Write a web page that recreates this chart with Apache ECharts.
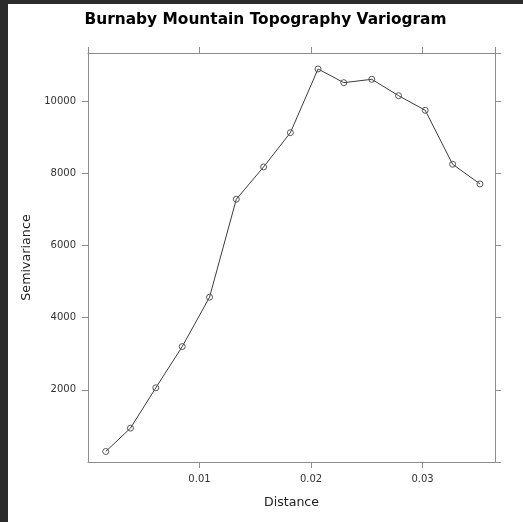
<!DOCTYPE html>
<html>
<head>
<meta charset="utf-8">
<script src="https://cdn.jsdelivr.net/npm/echarts@6/dist/echarts.min.js"></script>
<style>
  html, body { margin: 0; padding: 0; background: #2b2b2b; width: 523px; height: 522px; overflow: hidden; }
  #chart { position: absolute; left: 8px; top: 4px; width: 515px; height: 518px; background: #ffffff; }
</style>
</head>
<body>
<div id="chart"></div>
<script>
// Empirical variogram of Burnaby Mountain topography
const distance = [0.00159, 0.00381, 0.00608, 0.00845, 0.01090, 0.01330, 0.01575, 0.01815,
                  0.02063, 0.02294, 0.02545, 0.02785, 0.03024, 0.03270, 0.03515];
const semivariance = [291, 939, 2056, 3200, 4569, 7285, 8180, 9131,
                      10896, 10516, 10610, 10156, 9751, 8255, 7709];
const xTicks = [0.01, 0.02, 0.03];
const yTicks = [2000, 4000, 6000, 8000, 10000];

const points = distance.map((d, i) => [d, semivariance[i]]);

const frame = '#8c8c8c';
const font = 'DejaVu Sans';

const chart = echarts.init(document.getElementById('chart'), null, { renderer: 'canvas' });

const tickStyle = { show: true, inside: false, length: 6, lineStyle: { color: frame, width: 1 } };

chart.setOption({
  animation: false,
  title: {
    text: 'Burnaby Mountain Topography Variogram',
    left: 'center',
    top: 3,
    textStyle: { fontFamily: font, fontSize: 15.4, fontWeight: 'bold', color: '#000' }
  },
  grid: { left: 80, top: 49, right: 28, bottom: 60, containLabel: false },
  xAxis: [
    {
      type: 'value', position: 'bottom', min: 0, max: 0.0365, interval: 0.01,
      name: 'Distance', nameLocation: 'middle', nameGap: 34,
      nameTextStyle: { fontFamily: font, fontSize: 12.6, color: '#222' },
      axisLine: { show: true, onZero: false, lineStyle: { color: frame, width: 1 } },
      axisTick: tickStyle,
      splitLine: { show: false },
      axisLabel: {
        margin: 12, fontFamily: font, fontSize: 10, color: '#333',
        showMinLabel: false, showMaxLabel: false,
        formatter: v => (xTicks.some(t => Math.abs(t - v) < 1e-9) ? String(+v.toFixed(2)) : '')
      }
    },
    {
      type: 'value', position: 'top', min: 0, max: 0.0365, interval: 0.01,
      axisLine: { show: true, onZero: false, lineStyle: { color: frame, width: 1 } },
      axisTick: tickStyle,
      splitLine: { show: false },
      axisLabel: { show: false }
    }
  ],
  yAxis: [
    {
      type: 'value', position: 'left', min: 0, max: 11339, interval: 2000,
      name: 'Semivariance', nameLocation: 'middle', nameGap: 54,
      nameTextStyle: { fontFamily: font, fontSize: 12.7, color: '#222' },
      axisLine: { show: true, onZero: false, lineStyle: { color: frame, width: 1 } },
      axisTick: tickStyle,
      splitLine: { show: false },
      axisLabel: {
        margin: 12, fontFamily: font, fontSize: 10, color: '#333',
        showMinLabel: false, showMaxLabel: false,
        formatter: v => (yTicks.includes(v) ? String(v) : '')
      }
    },
    {
      type: 'value', position: 'right', min: 0, max: 11339, interval: 2000,
      axisLine: { show: true, onZero: false, lineStyle: { color: frame, width: 1 } },
      axisTick: tickStyle,
      splitLine: { show: false },
      axisLabel: { show: false }
    }
  ],
  series: [
    {
      type: 'line',
      data: points,
      xAxisIndex: 0,
      yAxisIndex: 0,
      symbol: 'circle',
      symbolSize: 6,
      showAllSymbol: true,
      lineStyle: { color: '#3c3c3c', width: 1 },
      itemStyle: { color: 'rgba(0,0,0,0)', borderColor: '#555555', borderWidth: 1 }
    }
  ]
});
</script>
</body>
</html>
